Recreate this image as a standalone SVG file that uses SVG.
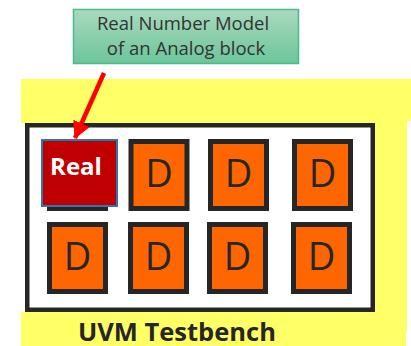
<svg xmlns="http://www.w3.org/2000/svg" width="411" height="346" viewBox="0 0 411 346">
  <defs>
    <linearGradient id="calloutFill" x1="0" y1="0" x2="0" y2="1">
      <stop offset="0" stop-color="#a9dabf"/>
      <stop offset="1" stop-color="#6cc59b"/>
    </linearGradient>
    <marker id="redHead" markerUnits="userSpaceOnUse" markerWidth="20" markerHeight="20" refX="16" refY="9" orient="auto">
      <path d="M0,0 L17,9 L0,18 Z" fill="#ff0000"/>
    </marker>
    <style>
      .dblock rect { fill: #ff6600; stroke: #262626; stroke-width: 5; }
      .dblock text { font-family: "Open Sans", "Liberation Sans", sans-serif; font-size: 38px; fill: #262626; text-anchor: middle; }
      .label { font-family: "Open Sans", "Liberation Sans", sans-serif; fill: #333333; font-size: 18.5px; text-anchor: middle; }
    </style>
  </defs>

  <rect width="411" height="346" fill="#ffffff"/>

  <!-- yellow testbench backdrop -->
  <path d="M21,79 H411 V121 H407 V331 H406 V346 H21 V312 H25 V123 H21 Z" fill="#ffff66"/>

  <!-- testbench frame -->
  <g id="testbench">
    <rect x="27.25" y="125.25" width="345.5" height="184.5" fill="#ffffff" stroke="#262626" stroke-width="4.5"/>
    <text x="78" y="341" font-family="Open Sans, Liberation Sans, sans-serif" font-weight="bold" font-size="25.5" fill="#262626">UVM Testbench</text>
  </g>

  <!-- callout -->
  <g id="callout">
    <rect x="73.5" y="9.5" width="225" height="54" fill="url(#calloutFill)" stroke="#4cbb8a" stroke-width="1.5"/>
    <text class="label" x="183" y="30">Real Number Model</text>
    <text class="label" x="186" y="55">of an Analog block</text>
  </g>

  <!-- digital blocks, top row -->
  <g id="d-hidden" class="dblock"><rect x="49.5" y="141.5" width="56" height="67"/></g>
  <g id="d-r1c2" class="dblock"><rect x="131" y="141.5" width="56" height="67"/><text x="159" y="187">D</text></g>
  <g id="d-r1c3" class="dblock"><rect x="210.5" y="141.5" width="56" height="67"/><text x="238.5" y="187">D</text></g>
  <g id="d-r1c4" class="dblock"><rect x="294.5" y="141.5" width="56" height="67"/><text x="322.5" y="187">D</text></g>

  <!-- digital blocks, bottom row -->
  <g id="d-r2c1" class="dblock"><rect x="49.5" y="224.5" width="56" height="67"/><text x="77.5" y="270">D</text></g>
  <g id="d-r2c2" class="dblock"><rect x="130.5" y="224.5" width="56" height="67"/><text x="158.5" y="270">D</text></g>
  <g id="d-r2c3" class="dblock"><rect x="209.5" y="224.5" width="56" height="67"/><text x="237.5" y="270">D</text></g>
  <g id="d-r2c4" class="dblock"><rect x="293.5" y="224.5" width="56" height="67"/><text x="321.5" y="270">D</text></g>

  <!-- real-number block -->
  <g id="real">
    <rect x="42" y="140" width="75" height="66" fill="#c00000" stroke="#2e75b6" stroke-width="2"/>
    <text x="76" y="175" font-family="Open Sans, Liberation Sans, sans-serif" font-weight="bold" font-size="24" fill="#ffffff" text-anchor="middle">Real</text>
  </g>

  <!-- connectors -->
  <g id="connectors">
    <line x1="104" y1="73" x2="75" y2="138" stroke="#ff0000" stroke-width="4.5" marker-end="url(#redHead)"/>
  </g>
</svg>
